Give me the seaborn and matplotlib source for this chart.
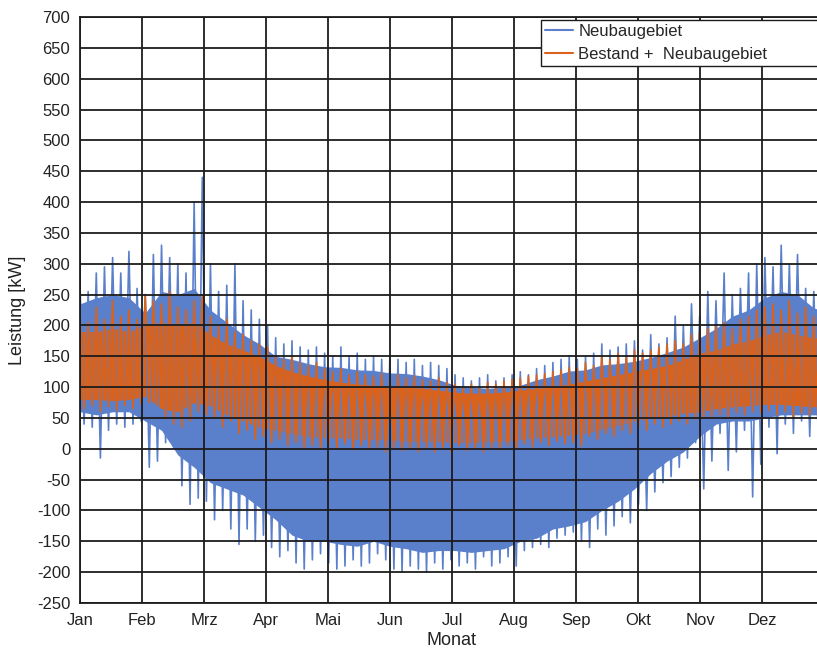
import numpy as np
import pandas as pd
import matplotlib
matplotlib.use("Agg")
import matplotlib.pyplot as plt
import seaborn as sns

# ------------------------------------------------------------
# Daten
# Spitzenwerte alle 4 Tage, Kernband alle 8 Tage, Leistung in kW
# ------------------------------------------------------------
monate = ["Jan", "Feb", "Mrz", "Apr", "Mai", "Jun",
          "Jul", "Aug", "Sep", "Okt", "Nov", "Dez"]
y_ticks = list(range(-250, 701, 50))

# Neubaugebiet (blau)
neu_max = [265, 255, 285, 295, 310, 285, 320, 260, 250, 315,
           330, 310, 300, 285, 400, 440, 300, 255, 265, 300,
           240, 225, 210, 200, 180, 170, 175, 165, 160, 165,
           155, 150, 165, 150, 155, 145, 150, 145, 150, 145,
           140, 145, 135, 140, 135, 130, 120, 115, 110, 115,
           120, 110, 115, 120, 125, 120, 130, 135, 140, 145,
           150, 145, 150, 155, 170, 160, 165, 170, 175, 160,
           185, 170, 180, 215, 200, 235, 215, 255, 240, 285,
           250, 260, 285, 300, 310, 295, 330, 300, 315, 260,
           255, 240]
neu_min = [40, 35, -15, 30, 40, 35, 40, 45, -30, -20,
           10, 0, -60, -90, -80, -85, -115, -100, -130, -155,
           -130, -150, -140, -160, -175, -165, -185, -195, -180, -170,
           -185, -195, -190, -180, -190, -185, -170, -180, -195, -200,
           -190, -195, -200, -185, -195, -180, -190, -185, -195, -175,
           -190, -185, -175, -190, -165, -160, -155, -160, -145, -140,
           -135, -150, -160, -130, -140, -125, -110, -120, -90, -100,
           -70, -55, -45, -30, -15, 10, -65, -20, 25, -35,
           -5, 30, -78, -25, 35, -8, 40, 25, 45, 20,
           40, 45]
neu_kern_oben = [235, 245, 250, 245, 220, 255, 250, 260, 225, 205,
                 185, 170, 150, 145, 138, 133, 132, 128, 127, 123,
                 122, 118, 112, 103, 100, 98, 100, 103, 112, 118,
                 126, 128, 136, 138, 142, 148, 156, 165, 180, 195,
                 215, 225, 245, 255, 250, 228, 222]
neu_kern_unten = [60, 55, 60, 60, 45, 30, -10, -30, -55, -65,
                  -75, -95, -115, -140, -150, -150, -155, -158, -150, -158,
                  -162, -168, -165, -165, -168, -165, -162, -150, -145, -130,
                  -125, -118, -100, -85, -65, -40, -20, -5, 20, 40,
                  45, 45, 50, 55, 55, 55, 55]

# Bestand + Neubaugebiet (orange)
ges_max = [215, 205, 230, 210, 240, 215, 225, 210, 250, 240,
           235, 255, 230, 225, 240, 250, 215, 200, 210, 190,
           185, 175, 170, 165, 150, 145, 150, 140, 135, 140,
           130, 125, 130, 120, 125, 120, 118, 122, 115, 120,
           115, 118, 112, 110, 115, 108, 105, 100, 105, 100,
           108, 105, 110, 112, 115, 118, 120, 122, 125, 128,
           132, 130, 140, 135, 150, 145, 155, 150, 160, 155,
           160, 165, 170, 175, 170, 185, 190, 195, 200, 205,
           195, 210, 215, 225, 230, 235, 225, 240, 220, 230,
           215, 220]
ges_min = [65, 70, 60, 68, 62, 70, 65, 72, 75, 70,
           50, 40, 35, 45, 60, 55, 50, 35, 45, 25,
           30, 15, 20, 10, 15, 5, 10, 0, 5, 0,
           5, 0, 8, -2, 5, 0, 3, -5, 2, -3,
           0, -5, 2, -5, 0, -5, 5, -3, 0, -5,
           2, -2, 5, 0, 8, 3, 10, 5, 12, 8,
           10, 5, 20, 15, 25, 20, 30, 25, 35, 30,
           40, 35, 40, 45, 40, 48, 50, 52, 55, 50,
           58, 55, 60, 58, 62, 55, 60, 52, 58, 55,
           50, 55]
ges_kern_oben = [190, 190, 195, 190, 200, 205, 200, 205, 185, 170,
                 160, 150, 135, 125, 118, 112, 108, 105, 103, 100,
                 100, 98, 95, 92, 90, 90, 92, 95, 98, 100,
                 105, 110, 115, 120, 125, 130, 135, 145, 155, 160,
                 170, 175, 185, 190, 185, 180, 180]
ges_kern_unten = [80, 80, 78, 80, 85, 65, 60, 75, 70, 55,
                  45, 35, 30, 25, 20, 18, 18, 15, 15, 15,
                  12, 12, 12, 10, 10, 12, 12, 15, 18, 20,
                  22, 25, 32, 38, 45, 50, 52, 58, 60, 65,
                  68, 70, 72, 72, 70, 68, 68]

farbe_neu = "#5A80CC"
farbe_ges = "#D9621C"

tage_spitze = np.arange(len(neu_max)) * 4.0
tage_kern = np.arange(len(neu_kern_oben)) * 8.0


def zickzack(hoch, tief):
    # abwechselnd Maximum und Minimum -> dichtes Band wie Stundenwerte
    x = np.empty(2 * len(hoch))
    y = np.empty(2 * len(hoch))
    x[0::2] = tage_spitze
    x[1::2] = tage_spitze + 2
    y[0::2] = hoch
    y[1::2] = tief
    return pd.DataFrame({"Tag": x, "Leistung": y})


df_neu = zickzack(neu_max, neu_min)
df_ges = zickzack(ges_max, ges_min)

# ------------------------------------------------------------
# Plot
# ------------------------------------------------------------
sns.set_style("white")
plt.rcParams["font.family"] = ["Liberation Sans", "DejaVu Sans"]
plt.rcParams["axes.unicode_minus"] = False

fig = plt.figure(figsize=(8.17, 6.5), dpi=100)
ax = fig.add_axes([80 / 817, 47 / 650, 744 / 817, 586 / 650])

ax.fill_between(tage_kern, neu_kern_unten, neu_kern_oben, color=farbe_neu, lw=0)
sns.lineplot(data=df_neu, x="Tag", y="Leistung", estimator=None, sort=False,
             color=farbe_neu, lw=1.2, label="Neubaugebiet", ax=ax)

ax.fill_between(tage_kern, ges_kern_unten, ges_kern_oben, color=farbe_ges, lw=0)
sns.lineplot(data=df_ges, x="Tag", y="Leistung", estimator=None, sort=False,
             color=farbe_ges, lw=1.2, label="Bestand +  Neubaugebiet", ax=ax)

ax.set_xlim(0, 365)
ax.set_ylim(-250, 700)
ax.set_xticks(np.arange(12) * 365 / 12)
ax.set_xticklabels(monate)
ax.set_yticks(y_ticks)
ax.set_yticklabels([str(v) for v in y_ticks])
ax.tick_params(length=0, labelsize=12, colors="#222222", pad=7)

ax.set_axisbelow(False)
ax.grid(True, color="#1c1c1c", lw=1.3)
for s in ax.spines.values():
    s.set_color("#1c1c1c")
    s.set_linewidth(1.3)

ax.set_xlabel("Monat", fontsize=13, color="#222222", labelpad=3)
ax.set_ylabel("Leistung [kW]", fontsize=13, color="#222222", labelpad=8)

leg = ax.legend(loc="upper left", bbox_to_anchor=(0.6196, 0.913, 0.375, 0.082),
                mode="expand", fontsize=12, frameon=True, fancybox=False,
                borderpad=0.25, labelspacing=0.45, handlelength=1.7,
                handletextpad=0.3, borderaxespad=0)
leg.get_frame().set_edgecolor("#1c1c1c")
leg.get_frame().set_linewidth(1.0)
leg.get_frame().set_alpha(1)
for linie in leg.get_lines():
    linie.set_linewidth(1.5)

fig.savefig("out.png", dpi=100)
